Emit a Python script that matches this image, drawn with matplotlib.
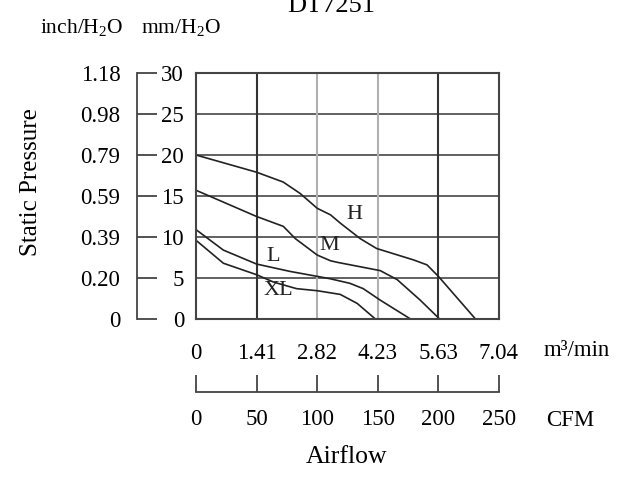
import matplotlib
matplotlib.use("Agg")
import matplotlib.pyplot as plt

plt.rcParams['font.family'] = ['Liberation Serif', 'DejaVu Serif']
plt.rcParams['mathtext.fontset'] = 'custom'
plt.rcParams['mathtext.rm'] = 'Liberation Serif'
plt.rcParams['mathtext.it'] = 'Liberation Serif'

# curves (CFM, mm H2O)
cfm_h = [0, 50, 72, 86, 100, 111, 119, 135.5, 149, 179.6, 190.6, 200, 230.6]
p_h = [20, 17.9, 16.7, 15.3, 13.5, 12.7, 11.7, 9.8, 8.6, 7.2, 6.6, 5.2, 0]
cfm_m = [0, 50, 72, 82, 100, 111, 117, 138, 152, 166, 185, 201]
p_m = [15.7, 12.5, 11.3, 9.8, 7.8, 7.1, 6.9, 6.3, 5.9, 4.8, 2.3, 0]
cfm_l = [0, 22.6, 50, 77.7, 100, 111, 127, 138, 152, 177]
p_l = [10.9, 8.4, 6.7, 5.8, 5.2, 4.9, 4.35, 3.7, 2.3, 0]
cfm_xl = [0, 22.6, 50, 64, 83, 100, 119, 133, 148]
p_xl = [9.6, 6.8, 5.4, 4.5, 3.7, 3.45, 3.0, 1.9, 0]

curve_names = ['H', 'M', 'L', 'XL']
label_pos = [(131, 12.7), (110, 9.0), (63.5, 7.6), (68, 3.5)]

mm_ticks = [0, 5, 10, 15, 20, 25, 30]
inch_labels = ['0', '0.20', '0.39', '0.59', '0.79', '0.98', '1.18']
cfm_ticks = [0, 50, 100, 150, 200, 250]
m3_labels = ['0', '1.41', '2.82', '4.23', '5.63', '7.04']

W, H = 621, 484
fig = plt.figure(figsize=(W / 100, H / 100), dpi=100)
fs = 16.5

def px(l, t, r, b):
    return [l / W, 1 - b / H, (r - l) / W, (b - t) / H]

# main grid
ax = fig.add_axes(px(196, 73, 499, 319))
ax.set_xlim(0, 250)
ax.set_ylim(0, 30)
for v in mm_ticks[1:-1]:
    ax.axhline(v, color='#555555', lw=1.3)
for v in cfm_ticks[1:-1]:
    c = '#333333' if v in (50, 200) else '#b0b0b0'
    ax.axvline(v, color=c, lw=1.5)
for s in ax.spines.values():
    s.set_color('#444444')
    s.set_linewidth(1.5)
ax.set_xticks([])
ax.set_yticks([])

for xs, ys in [(cfm_h, p_h), (cfm_m, p_m), (cfm_l, p_l), (cfm_xl, p_xl)]:
    ax.plot(xs, ys, color='#222222', lw=1.2)
for name, (x, y) in zip(curve_names, label_pos):
    ax.text(x, y, name, fontsize=16, ha='center', va='center', color='#222222')

# left pressure scale
axl = fig.add_axes(px(137, 73, 157, 319))
axl.set_ylim(0, 30)
axl.set_xticks([])
for k in ['top', 'right', 'bottom']:
    axl.spines[k].set_visible(False)
axl.spines['left'].set_color('#444444')
axl.spines['left'].set_linewidth(1.3)
axl.set_yticks(mm_ticks)
axl.set_yticklabels(inch_labels, fontsize=fs)
axl.tick_params(axis='y', direction='in', length=14.4, width=1.3, color='#444444', pad=12)
axl.patch.set_visible(False)
axr = axl.twinx()
axr.set_ylim(0, 30)
axr.set_yticks(mm_ticks)
axr.set_yticklabels([str(v) for v in mm_ticks], fontsize=fs, ha='right')
axr.tick_params(axis='y', length=0, pad=19.5)
for s in axr.spines.values():
    s.set_visible(False)

# bottom airflow scale
axb = fig.add_axes(px(196, 375, 499, 392))
axb.set_xlim(0, 250)
axb.set_yticks([])
for k in ['top', 'left', 'right']:
    axb.spines[k].set_visible(False)
axb.spines['bottom'].set_color('#444444')
axb.spines['bottom'].set_linewidth(1.3)
axb.set_xticks(cfm_ticks)
axb.set_xticklabels([str(v) for v in cfm_ticks], fontsize=fs)
axb.tick_params(axis='x', direction='in', length=12.2, width=1.3, color='#444444', pad=12)
for t in axb.xaxis.get_ticklines():
    t.set_clip_on(False)
axb.patch.set_visible(False)
axt = axb.twiny()
axt.set_xlim(0, 250)
axt.set_xticks(cfm_ticks)
axt.set_xticklabels(m3_labels, fontsize=fs)
axt.tick_params(axis='x', length=0, pad=8)
for s in axt.spines.values():
    s.set_visible(False)

fig.text(577 / W, 1 - 350 / H, 'm³/min', fontsize=fs, ha='center', va='center')
fig.text(570 / W, 1 - 421 / H, 'CFM', fontsize=fs, ha='center', va='center')
fig.text(347 / W, 1 - 457 / H, 'Airflow', fontsize=18.5, ha='center', va='center')
fig.text(31 / W, 1 - 182 / H, 'Static Pressure', fontsize=18, ha='center', va='center', rotation=90)
fig.text(82 / W, 1 - 27 / H, r'inch/H$_2$O', fontsize=15.5, ha='center', va='center')
fig.text(181 / W, 1 - 27 / H, r'mm/H$_2$O', fontsize=15.5, ha='center', va='center')
fig.text(331 / W, 1 - 12 / H, 'DT7251', fontsize=19, ha='center', va='baseline')

fig.savefig('out.png', dpi=100)
